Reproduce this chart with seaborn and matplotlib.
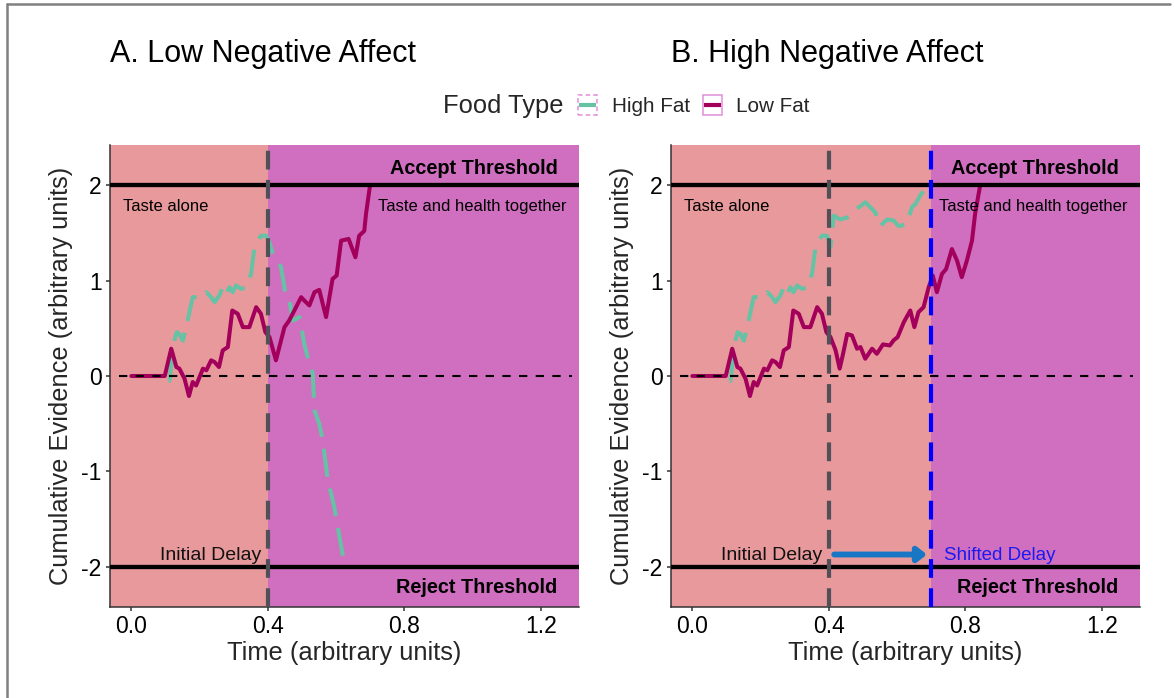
import numpy as np
import pandas as pd
import matplotlib
matplotlib.use("Agg")
import matplotlib.pyplot as plt
from matplotlib.patches import Rectangle
from matplotlib.lines import Line2D
import seaborn as sns

# ---- data -------------------------------------------------------------
food_types = ["High Fat", "Low Fat"]
panel_titles = ["A. Low Negative Affect", "B. High Negative Affect"]
x_ticks = [0.0, 0.4, 0.8, 1.2]
y_ticks = [-2, -1, 0, 1, 2]

# shared "taste alone" stretch (identical in both panels)
high_fat_early_t = [0.0, 0.100, 0.112, 0.124, 0.133, 0.141, 0.151, 0.163, 0.180, 0.210,
                    0.220, 0.234, 0.244, 0.258, 0.268, 0.278, 0.288, 0.297, 0.307, 0.322,
                    0.337, 0.351, 0.361, 0.380, 0.395]
high_fat_early_v = [0.0, 0.0, -0.05, 0.338, 0.46, 0.44, 0.37, 0.547, 0.826, 0.826,
                    0.878, 0.826, 0.774, 0.843, 0.93, 0.86, 0.93, 0.878, 0.948, 0.913,
                    0.93, 1.07, 1.348, 1.47, 1.47]
low_fat_early_t = [0.0, 0.098, 0.117, 0.132, 0.141, 0.156, 0.169, 0.180, 0.190, 0.210,
                   0.220, 0.234, 0.244, 0.257, 0.268, 0.283, 0.296, 0.312, 0.327, 0.346,
                   0.366, 0.380, 0.393, 0.405]
low_fat_early_v = [0.0, 0.0, 0.286, 0.094, 0.077, -0.028, -0.21, -0.063, -0.10, 0.077,
                   0.06, 0.164, 0.146, 0.094, 0.268, 0.303, 0.686, 0.652, 0.512, 0.512,
                   0.721, 0.652, 0.46, 0.408]

# panel A (low negative affect): health enters at 0.4
a_high_fat_t = [0.405, 0.415, 0.439, 0.454, 0.463, 0.468, 0.473, 0.493, 0.507, 0.522,
                0.532, 0.537, 0.551, 0.561, 0.576, 0.595, 0.610, 0.624, 0.634]
a_high_fat_v = [1.40, 1.28, 1.14, 0.82, 0.79, 0.70, 0.58, 0.617, 0.338, 0.129,
                0.024, -0.36, -0.50, -0.67, -1.09, -1.37, -1.68, -1.96, -2.0]
a_low_fat_t = [0.424, 0.439, 0.449, 0.463, 0.483, 0.498, 0.507, 0.522, 0.537, 0.551,
               0.571, 0.590, 0.602, 0.615, 0.637, 0.657, 0.668, 0.683, 0.688, 0.700]
a_low_fat_v = [0.164, 0.373, 0.512, 0.582, 0.721, 0.826, 0.791, 0.739, 0.878, 0.902,
               0.617, 1.017, 1.052, 1.418, 1.436, 1.244, 1.47, 1.52, 1.697, 2.0]

# panel B (high negative affect): health enters at 0.7
b_high_fat_t = [0.405, 0.415, 0.434, 0.454, 0.473, 0.493, 0.507, 0.527, 0.537, 0.551,
                0.571, 0.590, 0.605, 0.629, 0.644, 0.654, 0.668, 0.678, 0.690]
b_high_fat_v = [1.35, 1.68, 1.64, 1.66, 1.73, 1.78, 1.82, 1.75, 1.71, 1.57,
                1.64, 1.63, 1.57, 1.59, 1.77, 1.80, 1.89, 1.94, 2.0]
b_low_fat_t = [0.420, 0.432, 0.442, 0.454, 0.468, 0.483, 0.493, 0.507, 0.527, 0.541,
               0.559, 0.579, 0.590, 0.602, 0.620, 0.639, 0.651, 0.663, 0.678, 0.693,
               0.705, 0.717, 0.732, 0.744, 0.761, 0.776, 0.790, 0.805, 0.820, 0.829,
               0.844]
b_low_fat_v = [0.27, 0.077, 0.233, 0.44, 0.425, 0.286, 0.303, 0.181, 0.286, 0.233,
               0.331, 0.32, 0.373, 0.408, 0.564, 0.686, 0.512, 0.669, 0.721, 0.93,
               1.052, 0.878, 1.07, 1.12, 1.33, 1.21, 1.035, 1.21, 1.418, 1.697,
               2.0]

initial_delay = 0.4
shifted_delay = 0.7
accept_threshold = 2
reject_threshold = -2

# ---- styling ----------------------------------------------------------
colors = {"High Fat": "#66C2A5", "Low Fat": "#A3005C"}
dash_map = {"High Fat": (7, 3), "Low Fat": ""}
taste_col = "#E8999B"
both_col = "#D06FC0"
key_edge = "#E08FD8"

sns.set_theme(style="ticks")
plt.rcParams["font.family"] = ["Liberation Sans", "DejaVu Sans"]

W, H = 1175, 698
fig = plt.figure(figsize=(W / 100, H / 100), dpi=100)
fig.patch.set_facecolor("white")


def fx(px):
    return px / W


def fy(py):
    return 1 - py / H


xlim = (-0.0625, 1.3125)
ylim = (-2.42, 2.42)


def panel_frame(t_hf, v_hf, t_lf, v_lf):
    hf = pd.DataFrame({"t": high_fat_early_t + t_hf, "v": high_fat_early_v + v_hf,
                       "food": "High Fat"})
    lf = pd.DataFrame({"t": low_fat_early_t + t_lf, "v": low_fat_early_v + v_lf,
                       "food": "Low Fat"})
    return pd.concat([hf, lf], ignore_index=True)


panels = [
    dict(df=panel_frame(a_high_fat_t, a_high_fat_v, a_low_fat_t, a_low_fat_v),
         split=initial_delay, left=110, shifted=False),
    dict(df=panel_frame(b_high_fat_t, b_high_fat_v, b_low_fat_t, b_low_fat_v),
         split=shifted_delay, left=671, shifted=True),
]

for i, p in enumerate(panels):
    ax = fig.add_axes([fx(p["left"]), fy(607), 469 / W, 462 / H])
    ax.set_xlim(*xlim)
    ax.set_ylim(*ylim)
    ax.axvspan(xlim[0], p["split"], color=taste_col, lw=0, zorder=0)
    ax.axvspan(p["split"], xlim[1], color=both_col, lw=0, zorder=0)

    sns.lineplot(data=p["df"], x="t", y="v", hue="food", style="food",
                 hue_order=food_types, style_order=food_types,
                 palette=colors, dashes=dash_map, estimator=None, sort=False,
                 linewidth=2.9, legend=False, ax=ax, zorder=2)

    # reference lines
    ax.axhline(0, xmin=0.02, xmax=0.985, color="black", lw=1.5,
               dashes=(4, 4), zorder=3)
    ax.axhline(accept_threshold, color="black", lw=3.1, zorder=3)
    ax.axhline(reject_threshold, color="black", lw=3.1, zorder=3)
    ax.axvline(initial_delay, color="#505058", lw=3.0, dashes=(4.5, 2.5), zorder=3)
    if p["shifted"]:
        ax.axvline(shifted_delay, color="#0000FF", lw=3.0, dashes=(4.5, 2.5), zorder=3)

    # annotations
    ax.text(1.25, 2.115, "Accept Threshold", ha="right", va="baseline",
            fontsize=14.3, fontweight="bold", color="black", zorder=4)
    ax.text(1.25, -2.274, "Reject Threshold", ha="right", va="baseline",
            fontsize=14.3, fontweight="bold", color="black", zorder=4)
    ax.text(0.1, 1.731, "Taste alone", ha="center", va="baseline",
            fontsize=12, color="black", zorder=4)
    ax.text(1.0, 1.731, "Taste and health together", ha="center", va="baseline",
            fontsize=12, color="black", zorder=4)
    ax.text(0.38, -1.925, "Initial Delay", ha="right", va="baseline",
            fontsize=14, color="#111111", zorder=4)
    if p["shifted"]:
        ax.text(0.738, -1.925, "Shifted Delay", ha="left", va="baseline",
                fontsize=13.5, color="#1A1AF0", zorder=4)
        ax.annotate("", xy=(0.688, -1.87), xytext=(0.416, -1.87),
                    arrowprops=dict(arrowstyle="-|>,head_length=0.45,head_width=0.35",
                                    color="#1777C4", lw=4.2, shrinkA=0, shrinkB=0),
                    zorder=4)

    # axes styling
    for side in ("top", "right"):
        ax.spines[side].set_visible(False)
    for side in ("left", "bottom"):
        ax.spines[side].set_color("#333333")
        ax.spines[side].set_linewidth(1.1)
    ax.set_xticks(x_ticks)
    ax.set_xticklabels([f"{v:.1f}" for v in x_ticks])
    ax.set_yticks(y_ticks)
    ax.set_yticklabels([str(v) for v in y_ticks])
    ax.tick_params(axis="both", length=3, width=1.1, color="#333333",
                   labelsize=16.5, labelcolor="black", pad=3)
    ax.set_xlabel("Time (arbitrary units)", fontsize=18.4, labelpad=2)
    ax.set_ylabel("Cumulative Evidence (arbitrary units)", fontsize=18.4, labelpad=6)
    ax.grid(False)

    fig.text(fx(p["left"]), fy(62), panel_titles[i], fontsize=22, va="baseline",
             ha="left", color="black")

# ---- legend -----------------------------------------------------------
fig.text(fx(443), fy(113), "Food Type", fontsize=18.4, va="baseline", ha="left")
key_x = [578, 703]
label_x = [612, 736]
for food, kx, lx in zip(food_types, key_x, label_x):
    ls = (0, (3, 2)) if food == "High Fat" else "-"
    fig.add_artist(Rectangle((fx(kx), fy(115)), 19 / W, 20 / H, transform=fig.transFigure,
                             facecolor="white", edgecolor=key_edge, lw=1.1, linestyle=ls))
    fig.add_artist(Line2D([fx(kx + 1), fx(kx + 18)], [fy(105), fy(105)],
                          transform=fig.transFigure, color=colors[food], lw=3.0,
                          solid_capstyle="butt"))
    fig.text(fx(lx), fy(112), food, fontsize=14.9, va="baseline", ha="left")

# outer frame (top and left edges)
fig.add_artist(Line2D([fx(7), fx(1170)], [fy(4), fy(4)], transform=fig.transFigure,
                      color="#808080", lw=1.8))
fig.add_artist(Line2D([fx(7), fx(7)], [fy(4), 0], transform=fig.transFigure,
                      color="#808080", lw=1.8))

fig.savefig("out.png", dpi=100)
